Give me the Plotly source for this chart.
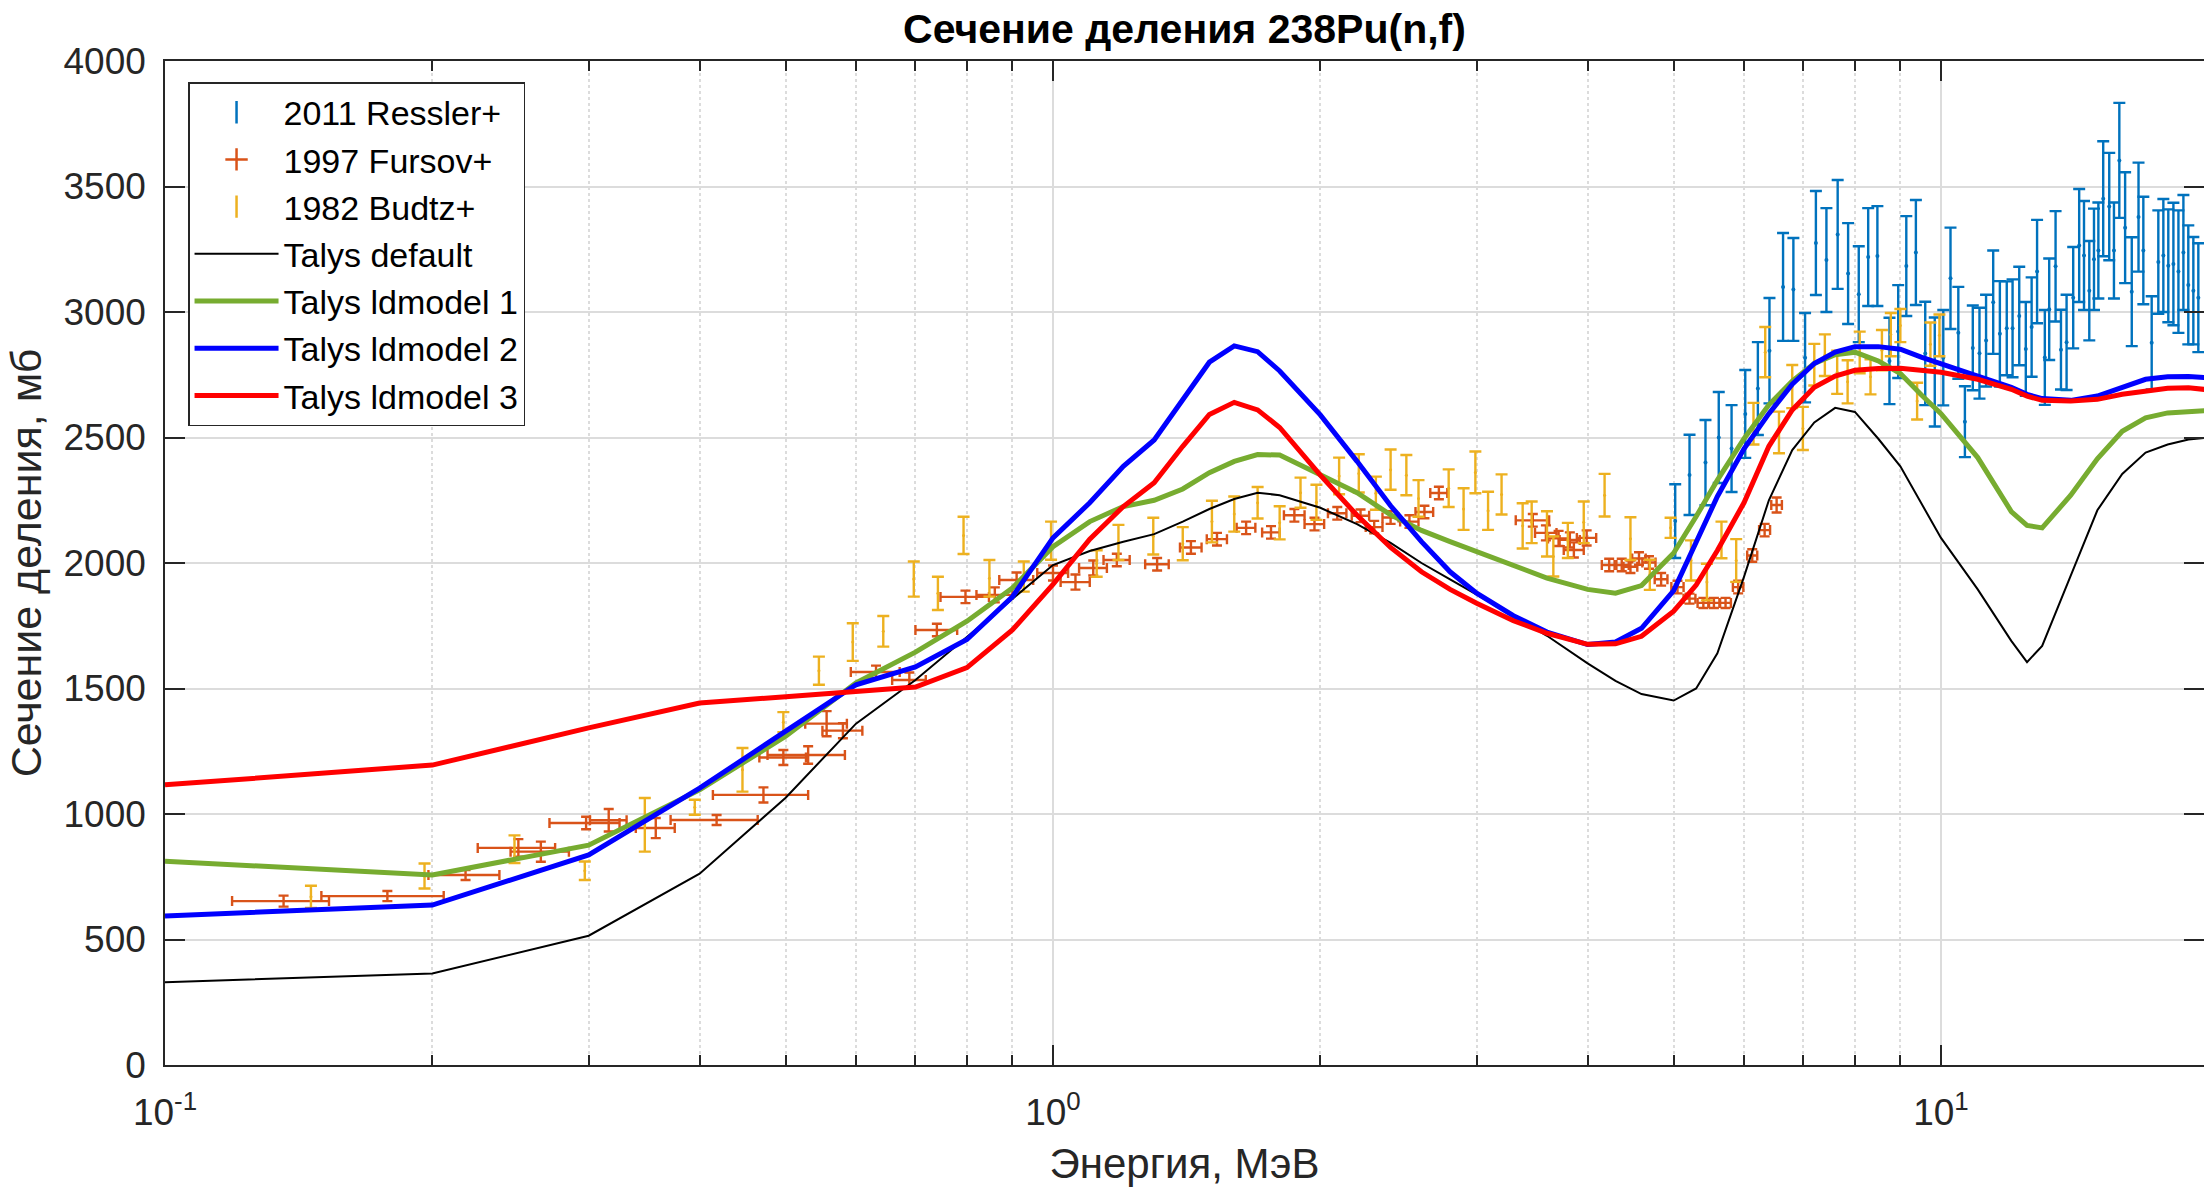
import plotly.graph_objects as go

# ---------------- data ----------------
# Ressler 2011
ress_e = [5.02, 5.21, 5.43, 5.62, 5.81, 6.02, 6.22, 6.41, 6.64, 6.82, 7.03, 7.23, 7.43, 7.65, 7.86,
          8.08, 8.28, 8.48, 8.75, 8.95, 9.14, 9.37, 9.60, 9.84, 10.06, 10.25, 10.46, 10.64, 10.86,
          11.05, 11.24, 11.45, 11.65, 11.86, 12.04, 12.25, 12.46, 12.65, 12.83, 13.09, 13.24, 13.46,
          13.65, 13.85, 14.09, 14.31, 14.49, 14.69, 14.87, 15.04, 15.23, 15.47, 15.66, 15.88, 16.12,
          16.40, 16.69, 16.90, 17.27, 17.57, 17.80, 18.03, 18.27, 18.51, 18.75, 18.99, 19.24, 19.49]
ress_v = [2167, 2351, 2400, 2500, 2456, 2594, 2695, 2846, 3100, 3090, 2818, 3275, 3207, 3309, 3153,
          3071, 3219, 3223, 2805, 2922, 3183, 3237, 2835, 2761, 2818, 3134, 2917, 2563, 2857,
          2836, 2886, 3039, 2913, 2935, 2935, 2984, 2853, 2940, 3161, 2819, 3011, 3182,
          2850, 2879, 3057, 3265, 3225, 3085, 3210, 3245, 3451, 3420, 3245, 3604, 3336,
          3081, 3378, 3245, 2877, 3199, 3225, 3184, 3191, 3161, 3237, 3108, 3085, 3057]
ress_err = [147, 160, 170, 181, 173, 175, 185, 210, 215, 205, 178, 207, 207, 217, 201,
            191, 195, 199, 172, 185, 199, 209, 206, 217, 190, 202, 183, 141, 169,
            181, 183, 206, 210, 187, 195, 196, 187, 198, 206, 189, 202, 220,
            159, 190, 202, 225, 217, 198, 202, 191, 229, 214, 191, 229, 221,
            217, 217, 214, 186, 206, 225, 225, 244, 244, 229, 237, 214, 217]

# Fursov 1997
furs_e = [0.136, 0.178, 0.218, 0.25, 0.265, 0.298, 0.316, 0.357, 0.418, 0.472, 0.497, 0.53, 0.556,
          0.58, 0.632, 0.689, 0.74, 0.797, 0.86, 0.91, 1.0, 1.06, 1.11, 1.18, 1.31, 1.43, 1.53,
          1.65, 1.76, 1.87, 1.97, 2.09, 2.22, 2.30, 2.40, 2.52, 2.62, 2.72, 3.47, 3.59, 3.71,
          3.82, 3.86, 3.99, 4.23, 4.37, 4.47, 4.57, 4.69, 4.84, 5.05, 5.21, 5.40, 5.55, 5.72,
          5.91, 6.13, 6.33, 6.53]
furs_v = [653, 673, 757, 865, 850, 964, 975, 944, 976, 1076, 1225, 1235, 1360,
          1332, 1566, 1534, 1733, 1865, 1873, 1932, 1960, 1924, 1980, 2012, 1995, 2062, 2095,
          2140, 2122, 2190, 2155, 2198, 2188, 2143, 2181, 2165, 2203, 2279, 2170, 2120, 2098,
          2092, 2052, 2100, 1992, 1992, 1985, 2018, 2002, 1935, 1904, 1858, 1841, 1841, 1841,
          1904, 2030, 2131, 2231]
furs_xerr = [0.017, 0.028, 0.02, 0.025, 0.02, 0.027, 0.015, 0.018, 0.047, 0.058, 0.03, 0.053, 0.03,
             0.03, 0.04, 0.03, 0.04, 0.05, 0.04, 0.04, 0.04, 0.04, 0.04, 0.04, 0.04, 0.04, 0.04,
             0.04, 0.04, 0.05, 0.05, 0.05, 0.05, 0.05, 0.05, 0.06, 0.06, 0.06, 0.15, 0.1, 0.1,
             0.1, 0.1, 0.1, 0.08, 0.08, 0.08, 0.08, 0.08, 0.08, 0.08, 0.08, 0.08, 0.08, 0.08,
             0.08, 0.08, 0.09, 0.09]
furs_yerr = [22, 20, 20, 35, 40, 25, 45, 40, 20, 30, 30, 35, 50,
             30, 25, 30, 25, 25, 30, 30, 30, 30, 30, 25, 25, 25, 25,
             25, 25, 25, 25, 25, 25, 25, 25, 25, 25, 25, 25, 30, 30,
             30, 30, 30, 25, 25, 25, 25, 25, 25, 25, 20, 20, 20, 20,
             25, 25, 25, 30]

# Budtz 1982
budtz_e = [0.146, 0.196, 0.2475, 0.297, 0.347, 0.395, 0.447, 0.497, 0.545, 0.595, 0.644, 0.697,
           0.742, 0.793, 0.848, 0.927, 0.995, 1.12, 1.185, 1.297, 1.40, 1.51, 1.60, 1.70, 1.80,
           1.90, 1.98, 2.10, 2.21, 2.31, 2.40, 2.50, 2.58, 2.79, 2.90, 2.99, 3.09, 3.20, 3.38,
           3.46, 3.60, 3.66, 3.80, 3.96, 4.18, 4.47, 4.70, 4.96, 5.23, 5.45, 5.66, 5.88, 6.15,
           6.34, 6.57, 6.80, 6.99, 7.2, 7.4, 7.64, 7.85, 8.1, 8.33, 8.58, 8.78, 9.0, 9.4, 9.73, 9.96]
budtz_v = [670, 753, 860, 774, 957, 1027, 1176, 1366, 1571, 1685, 1728, 1936,
           1879, 2110, 1939, 1946, 2089, 1998, 2082, 2107, 2077, 2165, 2195, 2240, 2160,
           2280, 2242, 2347, 2357, 2278, 2372, 2350, 2257, 2298, 2215, 2361, 2208, 2273, 2148,
           2162, 2116, 2026, 2090, 2162, 2270, 2097, 1953, 2140, 2010, 1924, 2092, 2010, 2555,
           2840, 2520, 2703, 2536, 2790, 2828, 2760, 2722, 2839, 2742, 2848, 2910, 2946, 2645, 2872, 2907]
budtz_err = [44, 50, 55, 37, 107, 30, 87, 40, 56, 75, 61, 70,
             66, 74, 73, 60, 76, 53, 70, 73, 66, 83, 70, 63, 66,
             60, 70, 73, 76, 66, 80, 80, 73, 75, 83, 83, 76, 80, 90,
             83, 90, 80, 70, 83, 85, 85, 60, 40, 80, 73, 73, 85, 83,
             100, 83, 86, 86, 83, 83, 86, 86, 83, 70, 80, 86, 66, 73, 86, 83]

# TALYS calculations
talys_e = [0.1, 0.2, 0.3, 0.4, 0.5, 0.6, 0.7, 0.8, 0.9, 1.0, 1.1, 1.2, 1.3, 1.4, 1.5, 1.6, 1.7, 1.8,
           2.0, 2.2, 2.4, 2.6, 2.8, 3.0, 3.3, 3.6, 4.0, 4.3, 4.6, 5.0, 5.3, 5.6, 6.0, 6.4, 6.8, 7.2,
           7.6, 8.0, 8.5, 9.0, 9.5, 10, 11, 12, 12.5, 13, 14, 15, 16, 17, 18, 19, 20]
talys_default = [330, 365, 515, 762, 1065, 1360, 1534, 1705, 1855, 1992, 2048, 2085, 2115, 2165, 2215,
                 2255, 2280, 2270, 2220, 2155, 2080, 2000, 1935, 1875, 1790, 1710, 1600, 1530, 1478,
                 1452, 1500, 1640, 1945, 2250, 2450, 2560, 2618, 2602, 2495, 2385, 2240, 2100, 1895,
                 1690, 1605, 1670, 1950, 2210, 2355, 2440, 2472, 2492, 2500]
talys_ld1 = [812, 757, 876, 1096, 1310, 1522, 1645, 1768, 1900, 2065, 2165, 2225, 2250, 2295, 2360,
             2405, 2432, 2430, 2352, 2280, 2192, 2130, 2085, 2045, 1990, 1940, 1895, 1880, 1910,
             2040, 2185, 2330, 2495, 2630, 2725, 2795, 2830, 2840, 2805, 2755, 2670, 2595, 2420,
             2205, 2150, 2140, 2270, 2415, 2525, 2578, 2598, 2605, 2608]
talys_ld2 = [594, 637, 837, 1103, 1330, 1515, 1586, 1695, 1865, 2100, 2240, 2385, 2490, 2655, 2800,
             2865, 2842, 2765, 2590, 2405, 2228, 2085, 1965, 1880, 1790, 1725, 1675, 1685, 1740,
             1890, 2080, 2265, 2455, 2595, 2712, 2795, 2840, 2862, 2862, 2852, 2820, 2795, 2745,
             2700, 2672, 2655, 2648, 2665, 2700, 2732, 2742, 2743, 2738]
talys_ld3 = [1116, 1195, 1343, 1442, 1467, 1488, 1506, 1583, 1733, 1915, 2095, 2225, 2320, 2465, 2592,
             2640, 2610, 2540, 2350, 2190, 2062, 1965, 1895, 1840, 1770, 1720, 1676, 1678, 1708,
             1808, 1912, 2050, 2240, 2465, 2610, 2700, 2745, 2768, 2775, 2776, 2770, 2760, 2732,
             2692, 2665, 2648, 2645, 2652, 2672, 2686, 2696, 2698, 2690]

x_tickvals = [0.1, 1, 10]
x_ticktext = ["10<sup>-1</sup>", "10<sup>0</sup>", "10<sup>1</sup>"]
x_minor = [0.2, 0.3, 0.4, 0.5, 0.6, 0.7, 0.8, 0.9, 2, 3, 4, 5, 6, 7, 8, 9]

C_RESS = "#0072BD"
C_FURS = "#D95319"
C_BUDTZ = "#EDB120"
AX = "#262626"

fig = go.Figure()

# legend-only symbols for the experimental series
fig.add_trace(go.Scatter(x=[None], y=[None], mode="markers", name="2011 Ressler+",
                         marker=dict(symbol="line-ns", size=16, color=C_RESS,
                                     line=dict(width=2.5, color=C_RESS))))
fig.add_trace(go.Scatter(x=[None], y=[None], mode="markers", name="1997 Fursov+",
                         marker=dict(symbol="cross-thin", size=16, color=C_FURS,
                                     line=dict(width=2.5, color=C_FURS))))
fig.add_trace(go.Scatter(x=[None], y=[None], mode="markers", name="1982 Budtz+",
                         marker=dict(symbol="line-ns", size=16, color=C_BUDTZ,
                                     line=dict(width=2.5, color=C_BUDTZ))))

# experimental data
fig.add_trace(go.Scatter(x=ress_e, y=ress_v, mode="markers", showlegend=False,
                         marker=dict(size=4, color=C_RESS),
                         error_y=dict(type="data", array=ress_err, color=C_RESS,
                                      thickness=2.4, width=6)))
fig.add_trace(go.Scatter(x=furs_e, y=furs_v, mode="markers", showlegend=False,
                         marker=dict(size=2, color=C_FURS),
                         error_y=dict(type="data", array=furs_yerr, color=C_FURS,
                                      thickness=2.4, width=5),
                         error_x=dict(type="data", array=furs_xerr, color=C_FURS,
                                      thickness=2.4, width=5)))
fig.add_trace(go.Scatter(x=budtz_e, y=budtz_v, mode="markers", showlegend=False,
                         marker=dict(size=3, color=C_BUDTZ),
                         error_y=dict(type="data", array=budtz_err, color=C_BUDTZ,
                                      thickness=2.4, width=6)))

# TALYS curves
fig.add_trace(go.Scatter(x=talys_e, y=talys_default, mode="lines", name="Talys default",
                         line=dict(color="black", width=2)))
fig.add_trace(go.Scatter(x=talys_e, y=talys_ld1, mode="lines", name="Talys ldmodel 1",
                         line=dict(color="#77AC30", width=5)))
fig.add_trace(go.Scatter(x=talys_e, y=talys_ld2, mode="lines", name="Talys ldmodel 2",
                         line=dict(color="#0000FF", width=5)))
fig.add_trace(go.Scatter(x=talys_e, y=talys_ld3, mode="lines", name="Talys ldmodel 3",
                         line=dict(color="#FF0000", width=5)))

FONT = "Liberation Sans, Arial, Helvetica, sans-serif"

fig.update_layout(
    width=2204, height=1194,
    margin=dict(l=165, r=0, t=61, b=129),
    paper_bgcolor="white", plot_bgcolor="white",
    font=dict(family=FONT, color=AX, size=37),
    title=dict(text="<b>Сечение деления 238Pu(n,f)</b>", x=0.5, xref="paper",
               y=1 - 29 / 1194, yref="container", yanchor="middle", xanchor="center",
               font=dict(size=41, color="black", family=FONT)),
    legend=dict(x=0.0113, y=0.979, xanchor="left", yanchor="top",
                bgcolor="white", bordercolor=AX, borderwidth=1.5,
                font=dict(size=34, color="black", family=FONT),
                itemwidth=84, tracegroupgap=0),
    showlegend=True,
)

fig.update_xaxes(
    type="log", range=[-1, 1.2962],
    tickmode="array", tickvals=x_tickvals, ticktext=x_ticktext,
    ticks="inside", ticklen=20, tickwidth=1.5, tickcolor=AX,
    showline=True, linecolor=AX, linewidth=1.5, mirror="ticks",
    showgrid=True, gridcolor="#DCDCDC", gridwidth=1.5,
    tickfont=dict(size=37, color=AX), ticklabelstandoff=14,
    minor=dict(tickmode="array", tickvals=x_minor, ticks="inside", ticklen=10,
               tickwidth=1.5, tickcolor=AX, showgrid=True, gridcolor="#DCDCDC",
               griddash="dot", gridwidth=1.5),
    title=dict(text="Энергия, МэВ", font=dict(size=42, color=AX), standoff=16),
    automargin=False, zeroline=False,
)
fig.update_yaxes(
    range=[0, 4000], tickmode="linear", tick0=0, dtick=500,
    ticks="inside", ticklen=20, tickwidth=1.5, tickcolor=AX,
    showline=True, linecolor=AX, linewidth=1.5, mirror="ticks",
    showgrid=True, gridcolor="#DCDCDC", gridwidth=1.5,
    tickfont=dict(size=37, color=AX), ticklabelstandoff=10,
    title=dict(text="Сечение деления, мб", font=dict(size=43, color=AX), standoff=8),
    automargin=False, zeroline=False,
)

fig.write_html("out.html", include_plotlyjs=True, full_html=True,
               config={"displayModeBar": False},
               post_script="document.body.style.margin='0';document.body.style.overflow='hidden';")
